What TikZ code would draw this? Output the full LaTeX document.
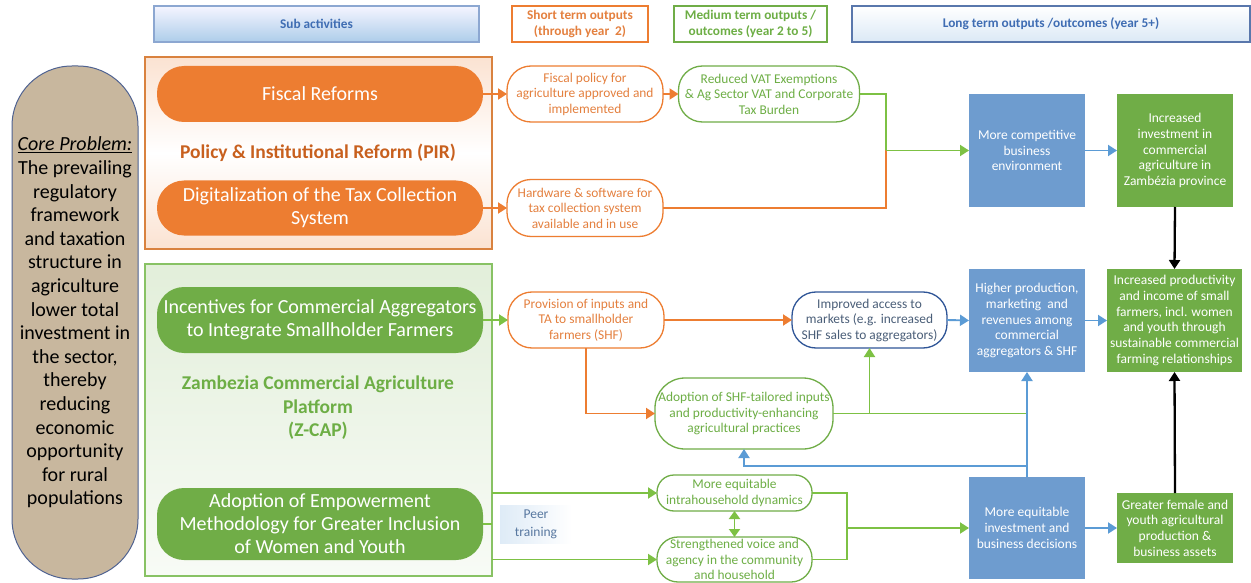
\documentclass[tikz,border=0pt]{standalone}
\usepackage{fontspec}
\setmainfont{Carlito}
\usetikzlibrary{arrows.meta,calc}
\definecolor{orn}{HTML}{ED7D31}
\definecolor{ornT}{HTML}{E4803F}
\definecolor{ornD}{HTML}{C8601E}
\definecolor{ornB}{HTML}{D9823F}
\definecolor{grnF}{HTML}{70AD47}
\definecolor{grnL}{HTML}{7DC144}
\definecolor{grnT}{HTML}{6DAE45}
\definecolor{grnB}{HTML}{88C264}
\definecolor{bluF}{HTML}{6E9CCF}
\definecolor{bluL}{HTML}{5B9BD5}
\definecolor{bluD}{HTML}{2F5597}
\definecolor{bluT}{HTML}{4A5E78}
\definecolor{hdrT}{HTML}{3F6DB3}
\definecolor{coreF}{HTML}{C8B79E}
\definecolor{coreB}{HTML}{4F6291}
\definecolor{peerT}{HTML}{5878A0}
\tikzset{
  arr/.style={-{Triangle[length=9pt,width=11pt]}},
  con/.style={line width=1.9pt},
  ocon/.style={con, draw=orn},
  gcon/.style={con, draw=grnL},
  bcon/.style={con, draw=bluL},
  kcon/.style={line width=2.3pt, draw=black},
  smallf/.style={font=\fontsize{13.4}{15.5}\selectfont},
  hdr/.style={font=\fontsize{13.3}{16}\selectfont\bfseries, align=center, line width=1.3pt, inner sep=0pt, outer sep=0pt, minimum height=36pt},
  pill/.style={rounded corners=27pt, inner sep=0pt, outer sep=0pt, minimum width=326pt, align=center, text=white, font=\fontsize{20}{23}\selectfont},
  outo/.style={rounded corners=24pt, draw=orn, line width=1.3pt, fill=white, inner sep=0pt, outer sep=0pt, align=center, text=ornT, smallf},
  outg/.style={rounded corners=24pt, draw=grnF, line width=1.3pt, fill=white, inner sep=0pt, outer sep=0pt, align=center, text=grnT, smallf},
  lbox/.style={inner sep=0pt, outer sep=0pt, align=center, text=white, font=\fontsize{13.5}{15.7}\selectfont, minimum width=116pt},
  frame/.style={line width=1.3pt, inner sep=0pt, outer sep=0pt, minimum width=347pt}
}
\begin{document}
\begin{tikzpicture}[x=1pt,y=-1pt]
\useasboundingbox (0,0) rectangle (1251,583);
\fill[white] (0,0) rectangle (1251,583);

% headers
\node[hdr, draw=hdrT!60, top color=blue!4!white, bottom color=bluL!50!white, text=hdrT, minimum width=325pt] (hsub) at (316.5,24) {Sub activities};
\node[hdr, draw=orn, fill=white, text=ornT, minimum width=136pt] (hshort) at (580,24) {Short term outputs\\(through year~~2)};
\node[hdr, draw=grnF, fill=white, text=grnT, minimum width=153pt] (hmed) at (750.5,24) {Medium term outputs /\\outcomes (year 2 to 5)};
\node[hdr, draw=bluD!80, top color=white, bottom color=bluL!22!white, text=hdrT, minimum width=398pt] (hlong) at (1051,24) {Long term outputs /outcomes (year 5+)};

% core problem
\node[draw=coreB, line width=1pt, fill=coreF, rounded corners=60pt, minimum width=126pt, minimum height=513pt, inner sep=0pt, align=center, font=\fontsize{20}{23.6}\selectfont] (core) at (75,322.5)
{\underline{\textit{Core Problem:}}\\The prevailing\\regulatory\\framework\\and taxation\\structure in\\agriculture\\lower total\\investment in\\the sector,\\thereby\\reducing\\economic\\opportunity\\for rural\\populations};

% frames
\node[frame, draw=ornB, top color=orn!22!white, bottom color=orn!22!white, middle color=white, minimum height=192pt] (pir) at (318.5,153) {};
\node[frame, draw=grnB, top color=grnF!20!white, bottom color=grnF!5!white, minimum height=312pt] (zcap) at (318.5,420) {};

% pills
\node[pill, fill=orn, minimum height=56pt] (fiscalref) at (320,94) {Fiscal Reforms};
\node[font=\fontsize{19.5}{23}\selectfont\bfseries, text=ornD] (pirlab) at (318,153) {Policy \& Institutional Reform (PIR)};
\node[pill, fill=orn, minimum height=55pt] (digital) at (320,208) {Digitalization of the Tax Collection\\System};
\node[pill, fill=grnF, minimum height=66pt] (incent) at (320,320) {Incentives for Commercial Aggregators\\to Integrate Smallholder Farmers};
\node[font=\fontsize{19.5}{23.5}\selectfont\bfseries, text=grnT, align=center] (zlab) at (318,408) {Zambezia Commercial Agriculture\\Platform\\(Z-CAP)};
\node[pill, fill=grnF, minimum height=72pt] (adopt) at (320,524) {Adoption of Empowerment\\Methodology for Greater Inclusion\\of Women and Youth};

% peer training
\node[left color=bluL!20!white, right color=white, minimum width=72pt, minimum height=38pt, inner sep=0pt, align=center, text=peerT, font=\fontsize{13.5}{18}\selectfont] (peer) at (536,524) {Peer\\training};

% short term outputs
\node[outo, minimum width=156pt, minimum height=56pt] (fpol) at (585,94) {Fiscal policy for\\agriculture approved and\\implemented};
\node[outo, minimum width=156pt, minimum height=57pt] (hw) at (585,208) {Hardware \& software for\\tax collection system\\available and in use};
\node[outo, minimum width=156pt, minimum height=56pt] (prov) at (586,320) {Provision of inputs and\\TA to smallholder\\farmers (SHF)};

% medium term
\node[outg, minimum width=181pt, minimum height=56pt] (vat) at (769,94) {Reduced VAT Exemptions\\\& Ag Sector VAT and Corporate\\Tax Burden};
\node[outg, draw=bluD, text=bluT, minimum width=155pt, minimum height=56pt] (access) at (869.5,320) {Improved access to\\markets (e.g. increased\\SHF sales to aggregators)};
\node[outg, rounded corners=30pt, minimum width=178pt, minimum height=71pt] (shf) at (744,413.5) {Adoption of SHF-tailored inputs\\and productivity-enhancing\\agricultural practices};
\node[outg, rounded corners=17pt, minimum width=155pt, minimum height=36pt] (intra) at (734.5,493) {More equitable\\intrahousehold dynamics};
\node[outg, rounded corners=21pt, minimum width=155pt, minimum height=45pt] (strength) at (734.5,559.5) {Strengthened voice and\\agency in the community\\and household};

% long term
\node[lbox, fill=bluF, minimum height=113pt] (comp) at (1027,150.5) {More competitive\\business\\environment};
\node[lbox, fill=grnF, minimum height=113pt] (invest) at (1175,150.5) {Increased\\investment in\\commercial\\agriculture in\\Zambézia province};
\node[lbox, fill=bluF, minimum height=103pt] (higher) at (1027,320.5) {Higher production,\\marketing~~and\\revenues among\\commercial\\aggregators \& SHF};
\node[lbox, fill=grnF, minimum width=135pt, minimum height=103pt] (prod) at (1174.5,320.5) {Increased productivity\\and income of small\\farmers, incl. women\\and youth through\\sustainable commercial\\farming relationships};
\node[lbox, fill=bluF, minimum height=102pt] (equit) at (1027,528) {More equitable\\investment and\\business decisions};
\node[lbox, fill=grnF, minimum height=70pt] (female) at (1175,528) {Greater female and\\youth agricultural\\production \&\\business assets};

% junctions
\coordinate (j1) at (886,150.5);
\coordinate (bj) at (1027,466);
\coordinate (mx) at (847,528);

% connectors top
\draw[ocon,arr] (fiscalref.east) -- (fpol.west);
\draw[ocon,arr] (digital.east) -- (hw.west);
\draw[ocon,arr] (fpol.east) -- (vat.west);
\draw[ocon] (hw.east) -| (j1);
\draw[gcon] (vat.east) -| (j1);
\draw[gcon,arr] (j1) -- (comp.west);
\draw[bcon,arr] (comp.east) -- (invest.west);
\draw[kcon,arr] (invest.south) -- (prod.north);

% middle
\draw[gcon,arr] (incent.east) -- (prov.west);
\draw[ocon,arr] (prov.east) -- (access.west);
\draw[ocon,arr] (prov.south) |- (shf.west);
\draw[bcon,arr] (access.east) -- (higher.west);
\draw[bcon,arr] (higher.east) -- (prod.west);
\draw[gcon] (shf.east) -- (shf.east -| bj);
\draw[gcon,arr] (shf.east -| access.south) -- (access.south);
\draw[bcon,arr] (equit.north) -- (higher.south);
\draw[bcon,arr] (bj) -| (shf.south);

% bottom
\draw[gcon] (adopt.east) -- (adopt.east -| zcap.east);
\draw[gcon,arr] (intra.west -| zcap.east) -- (intra.west);
\draw[gcon,arr] (strength.west -| zcap.east) -- (strength.west);
\draw[gcon,{Triangle[length=8pt,width=11pt]}-{Triangle[length=8pt,width=11pt]}] (intra.south) -- (strength.north);
\draw[gcon] (intra.east) -| (mx) |- (strength.east);
\draw[gcon,arr] (mx) -- (equit.west);
\draw[bcon,arr] (equit.east) -- (female.west);
\draw[kcon,arr] (female.north) -- (prod.south);
\end{tikzpicture}
\end{document}
